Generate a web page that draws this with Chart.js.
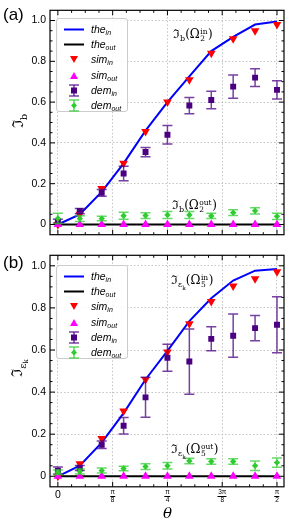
<!DOCTYPE html>
<html>
<head>
<meta charset="utf-8">
<script src="https://cdn.jsdelivr.net/npm/chart.js@4.4.1/dist/chart.umd.min.js"></script>
<style>
body { margin:0; width:289px; height:523px; position:relative; background:#fff; overflow:hidden; font-family:"Liberation Sans", Arial, sans-serif; }
canvas { position:absolute; left:0; }
#chart-a { top:0; }
#chart-b { top:245px; }
.txt { position:absolute; white-space:nowrap; line-height:1; }
.panel { font-size:17px; transform:translateY(-50%); }
.ann { font-family:"DejaVu Serif", serif; font-size:12px; transform:translateY(-50%); }
.ann sub { font-size:8px; vertical-align:-3px; line-height:0; }
.stk { display:inline-flex; flex-direction:column; font-size:7.5px; line-height:7px; vertical-align:4px; margin:0 0.5px; }
.ytitle { font-family:"DejaVu Serif", serif; font-size:15px; transform:translate(-50%,-50%) rotate(-90deg); }
.ytitle sub { font-size:10px; vertical-align:-4px; line-height:0; }
.ytitle sub sub { font-size:7px; vertical-align:-2px; }
.leg { position:absolute; width:72px; height:94px; border:1px solid #cccccc; border-radius:3px; background:rgba(255,255,255,0.85); box-sizing:border-box; }
.leg .row { position:absolute; left:0; height:15px; width:100%; }
.leg svg { position:absolute; left:5px; top:0; }
.leg .lbl { position:absolute; left:34px; top:1px; font-style:italic; font-size:10.5px; line-height:13px; }
.leg .lbl sub { font-size:7px; vertical-align:-2px; line-height:0; }
.frac { position:absolute; font-size:6.5px; text-align:center; transform:translateX(-50%); line-height:6px; }
.frac .n { border-bottom:0.6px solid #000; padding:0 0.5px 0.5px; }
.frac .d { padding-top:0.5px; }
</style>
</head>
<body>
<canvas id="chart-a" width="289" height="245"></canvas>
<canvas id="chart-b" width="289" height="278"></canvas>
<div id="overlay"></div>
<script>
// theta in units of pi
const thetaPi = [0, 0.05, 0.1, 0.15, 0.2, 0.25, 0.3, 0.35, 0.4, 0.45, 0.5];
const xTickVals = [0, 0.125, 0.25, 0.375, 0.5];
const xTickNum = ['', 'π', 'π', '3π', 'π'];
const xTickDen = ['', '8', '4', '8', '2'];
const yTickVals = [0, 0.2, 0.4, 0.6, 0.8, 1.0];

const zeros = [0, 0, 0, 0, 0, 0, 0, 0, 0, 0, 0];

// panel (a)
const theInA = [0, 0.05, 0.16, 0.30, 0.46, 0.60, 0.726, 0.85, 0.92, 0.98, 0.995];
const simInA = [0, 0.05, 0.177, 0.30, 0.456, 0.60, 0.71, 0.84, 0.91, 0.95, 0.98];
const demInA = [0.016, 0.066, 0.155, 0.25, 0.355, 0.44, 0.583, 0.61, 0.676, 0.72, 0.66];
const demInErrA = [0.01, 0.013, 0.017, 0.035, 0.023, 0.045, 0.04, 0.043, 0.057, 0.044, 0.045];
const demOutA = [0.03, 0.029, 0.029, 0.043, 0.044, 0.047, 0.047, 0.042, 0.058, 0.067, 0.04];
const demOutErrA = [0.025, 0.014, 0.011, 0.017, 0.014, 0.017, 0.017, 0.013, 0.014, 0.015, 0.015];

// panel (b)
const theInB = [0, 0.05, 0.16, 0.30, 0.46, 0.596, 0.737, 0.846, 0.93, 0.977, 0.985];
const simInB = [0, 0.06, 0.18, 0.31, 0.46, 0.59, 0.725, 0.83, 0.904, 0.938, 0.972];
const demInB = [0.027, 0.039, 0.15, 0.24, 0.375, 0.563, 0.545, 0.653, 0.668, 0.704, 0.72];
const demInErrB = [0.017, 0.012, 0.018, 0.039, 0.095, 0.064, 0.155, 0.057, 0.103, 0.06, 0.133];
const demOutB = [0.019, 0.023, 0.027, 0.037, 0.046, 0.05, 0.073, 0.07, 0.07, 0.05, 0.065];
const demOutErrB = [0.011, 0.012, 0.012, 0.011, 0.014, 0.015, 0.013, 0.013, 0.013, 0.022, 0.022];

const pts = arr => thetaPi.map((t, i) => ({ x: t, y: arr[i] }));

// error bars under each dataset's own markers
const errorBars = {
  id: 'errorBars',
  beforeDatasetDraw(chart, args) {
    const ds = chart.data.datasets[args.index];
    if (!ds.errors) return;
    const { ctx, scales: { x, y } } = chart;
    ctx.save();
    ctx.strokeStyle = ds.errColor;
    ctx.lineWidth = 1.5;
    ds.data.forEach((p, i) => {
      const px = x.getPixelForValue(p.x);
      const y1 = y.getPixelForValue(p.y - ds.errors[i]);
      const y2 = y.getPixelForValue(p.y + ds.errors[i]);
      ctx.beginPath();
      ctx.moveTo(px, y1); ctx.lineTo(px, y2);
      ctx.moveTo(px - 5, y1); ctx.lineTo(px + 5, y1);
      ctx.moveTo(px - 5, y2); ctx.lineTo(px + 5, y2);
      ctx.stroke();
    });
    ctx.restore();
  }
};

// matplotlib-like frame with inward ticks on all sides
const frame = {
  id: 'frame',
  afterDraw(chart) {
    const { ctx, chartArea: a, scales: { x, y } } = chart;
    ctx.save();
    ctx.strokeStyle = '#000';
    ctx.lineWidth = 1;
    ctx.beginPath();
    const tick = (px, len, vertical) => {
      if (vertical) {
        ctx.moveTo(px, a.bottom); ctx.lineTo(px, a.bottom - len);
        ctx.moveTo(px, a.top); ctx.lineTo(px, a.top + len);
      } else {
        ctx.moveTo(a.left, px); ctx.lineTo(a.left + len, px);
        ctx.moveTo(a.right, px); ctx.lineTo(a.right - len, px);
      }
    };
    for (let v = -0.03125; v <= 0.52; v += 0.03125) {
      const major = xTickVals.some(t => Math.abs(t - v) < 1e-6);
      const px = x.getPixelForValue(v);
      if (px >= a.left && px <= a.right) tick(px, major ? 5 : 2.5, true);
    }
    for (let v = 0; v <= 1.0001; v += 0.05) {
      const major = yTickVals.some(t => Math.abs(t - v) < 1e-6);
      tick(y.getPixelForValue(v), major ? 5 : 2.5, false);
    }
    ctx.stroke();
    ctx.lineWidth = 1.2;
    ctx.strokeRect(a.left, a.top, a.right - a.left, a.bottom - a.top);
    ctx.restore();
  }
};

function makeChart(id, d, padTop, xHeight) {
  return new Chart(document.getElementById(id), {
    type: 'scatter',
    data: {
      datasets: [
        { label: 'the_in', data: pts(d.theIn), showLine: true, borderColor: '#0000ff', borderWidth: 2, pointRadius: 0, order: 6 },
        { label: 'the_out', data: pts(zeros), showLine: true, borderColor: '#000000', borderWidth: 2, pointRadius: 0, order: 5 },
        { label: 'sim_in', data: pts(d.simIn), pointStyle: 'triangle', rotation: 180, pointRadius: 5, backgroundColor: '#ff0000', borderWidth: 0, order: 4 },
        { label: 'sim_out', data: pts(zeros), pointStyle: 'triangle', pointRadius: 5, backgroundColor: '#ff00ff', borderWidth: 0, order: 3 },
        { label: 'dem_in', data: pts(d.demIn), errors: d.demInErr, errColor: 'rgba(75,0,130,0.75)', pointStyle: 'rect', pointRadius: 4.2, backgroundColor: '#4b0082', borderWidth: 0, order: 2 },
        { label: 'dem_out', data: pts(d.demOut), errors: d.demOutErr, errColor: 'rgba(50,205,50,0.75)', pointStyle: 'rectRot', pointRadius: 3.2, backgroundColor: '#2ecc2e', borderWidth: 0, order: 1 }
      ]
    },
    options: {
      animation: false,
      responsive: false,
      events: [],
      layout: { padding: { top: padTop, right: 3, left: 0, bottom: 0 } },
      plugins: { legend: { display: false }, tooltip: { enabled: false } },
      scales: {
        x: {
          type: 'linear', min: -0.018, max: 0.516,
          afterBuildTicks: s => { s.ticks = xTickVals.map(v => ({ value: v })); },
          afterFit: s => { s.height = xHeight; },
          ticks: { display: false },
          grid: { color: '#b5b5b5', lineWidth: 0.8, drawTicks: false },
          border: { display: false, dash: [1.5, 2] }
        },
        y: {
          min: -0.05, max: 1.05,
          afterBuildTicks: s => { s.ticks = yTickVals.map(v => ({ value: v })); },
          afterFit: s => { s.width = 50; },
          ticks: {
            color: '#000', padding: 4,
            font: { family: 'Liberation Sans', size: 10.5 },
            callback: v => v === 0 ? '0' : v.toFixed(1)
          },
          grid: { color: '#b5b5b5', lineWidth: 0.8, drawTicks: false },
          border: { display: false, dash: [1.5, 2] }
        }
      }
    },
    plugins: [errorBars, frame]
  });
}

const chartA = makeChart('chart-a',
  { theIn: theInA, simIn: simInA, demIn: demInA, demInErr: demInErrA, demOut: demOutA, demOutErr: demOutErrA }, 2.5, 5.7);
const chartB = makeChart('chart-b',
  { theIn: theInB, simIn: simInB, demIn: demInB, demInErr: demInErrB, demOut: demOutB, demOutErr: demOutErrB }, 3.7, 36.2);

// ── overlay text ──
const ov = document.getElementById('overlay');
function add(html, cls, left, top) {
  const el = document.createElement('div');
  el.className = 'txt ' + cls;
  el.style.left = left + 'px';
  el.style.top = top + 'px';
  el.innerHTML = html;
  ov.appendChild(el);
  return el;
}

const svgLine = c => `<svg width="24" height="15"><line x1="2" x2="22" y1="7.5" y2="7.5" stroke="${c}" stroke-width="2"/></svg>`;
const svgTri = (c, down) => down
  ? `<svg width="24" height="15"><polygon points="8,4 16,4 12,11" fill="${c}"/></svg>`
  : `<svg width="24" height="15"><polygon points="8,11 16,11 12,4" fill="${c}"/></svg>`;
const svgErr = (c, ec, mark) => `<svg width="24" height="15"><g stroke="${ec}" stroke-width="1.5"><line x1="12" x2="12" y1="2" y2="13"/><line x1="7" x2="17" y1="2" y2="2"/><line x1="7" x2="17" y1="13" y2="13"/></g>${mark}</svg>`;

const legendRows = [
  [svgLine('#0000ff'), 'the', 'in'],
  [svgLine('#000000'), 'the', 'out'],
  [svgTri('#ff0000', true), 'sim', 'in'],
  [svgTri('#ff00ff', false), 'sim', 'out'],
  [svgErr('#4b0082', 'rgba(75,0,130,0.75)', '<rect x="9" y="4.5" width="6" height="6" fill="#4b0082"/>'), 'dem', 'in'],
  [svgErr('#2ecc2e', 'rgba(50,205,50,0.75)', '<polygon points="12,4.5 15,7.5 12,10.5 9,7.5" fill="#2ecc2e"/>'), 'dem', 'out']
];

function legend(left, top) {
  const box = document.createElement('div');
  box.className = 'leg';
  box.style.left = left + 'px';
  box.style.top = top + 'px';
  box.innerHTML = legendRows.map((r, i) =>
    `<div class="row" style="top:${3 + i * 15.2}px">${r[0]}<span class="lbl">${r[1]}<sub>${r[2]}</sub></span></div>`
  ).join('');
  ov.appendChild(box);
}
legend(56, 18);
legend(56, 265);

add('(a)', 'panel', 3, 14);
add('(b)', 'panel', 3, 262);

add('ℑ<sub>b</sub>', 'ytitle', 18, 121);
add('ℑ<sub>ε<sub>k</sub></sub>', 'ytitle', 18, 368);

const omega = (n, s) => `Ω<span class="stk"><span>${s}</span><span>${n}</span></span>`;
add(`ℑ<sub>b</sub>(${omega(2, 'in')})`, 'ann', 173, 35);
add(`ℑ<sub>b</sub>(${omega(2, 'out')})`, 'ann', 172, 206);
add(`ℑ<sub>ε<sub style="font-size:6px">k</sub></sub>(${omega(5, 'in')})`, 'ann', 171, 281);
add(`ℑ<sub>ε<sub style="font-size:6px">k</sub></sub>(${omega(5, 'out')})`, 'ann', 171, 450);

// x tick labels for the lower panel
const xs = chartB.scales.x;
xTickVals.forEach((v, i) => {
  const px = xs.getPixelForValue(v);
  if (i === 0) {
    const el = add('0', '', px, 489);
    el.style.fontSize = '10.5px';
    el.style.transform = 'translateX(-50%)';
  } else {
    add(`<div class="n">${xTickNum[i]}</div><div class="d">${xTickDen[i]}</div>`, 'frac', px, 489);
  }
});

const th = add('θ', '', xs.getPixelForValue(0.25), 513);
th.style.fontFamily = '"DejaVu Serif", serif';
th.style.fontStyle = 'italic';
th.style.fontSize = '15px';
th.style.transform = 'translate(-50%,-50%)';
</script>
</body>
</html>
